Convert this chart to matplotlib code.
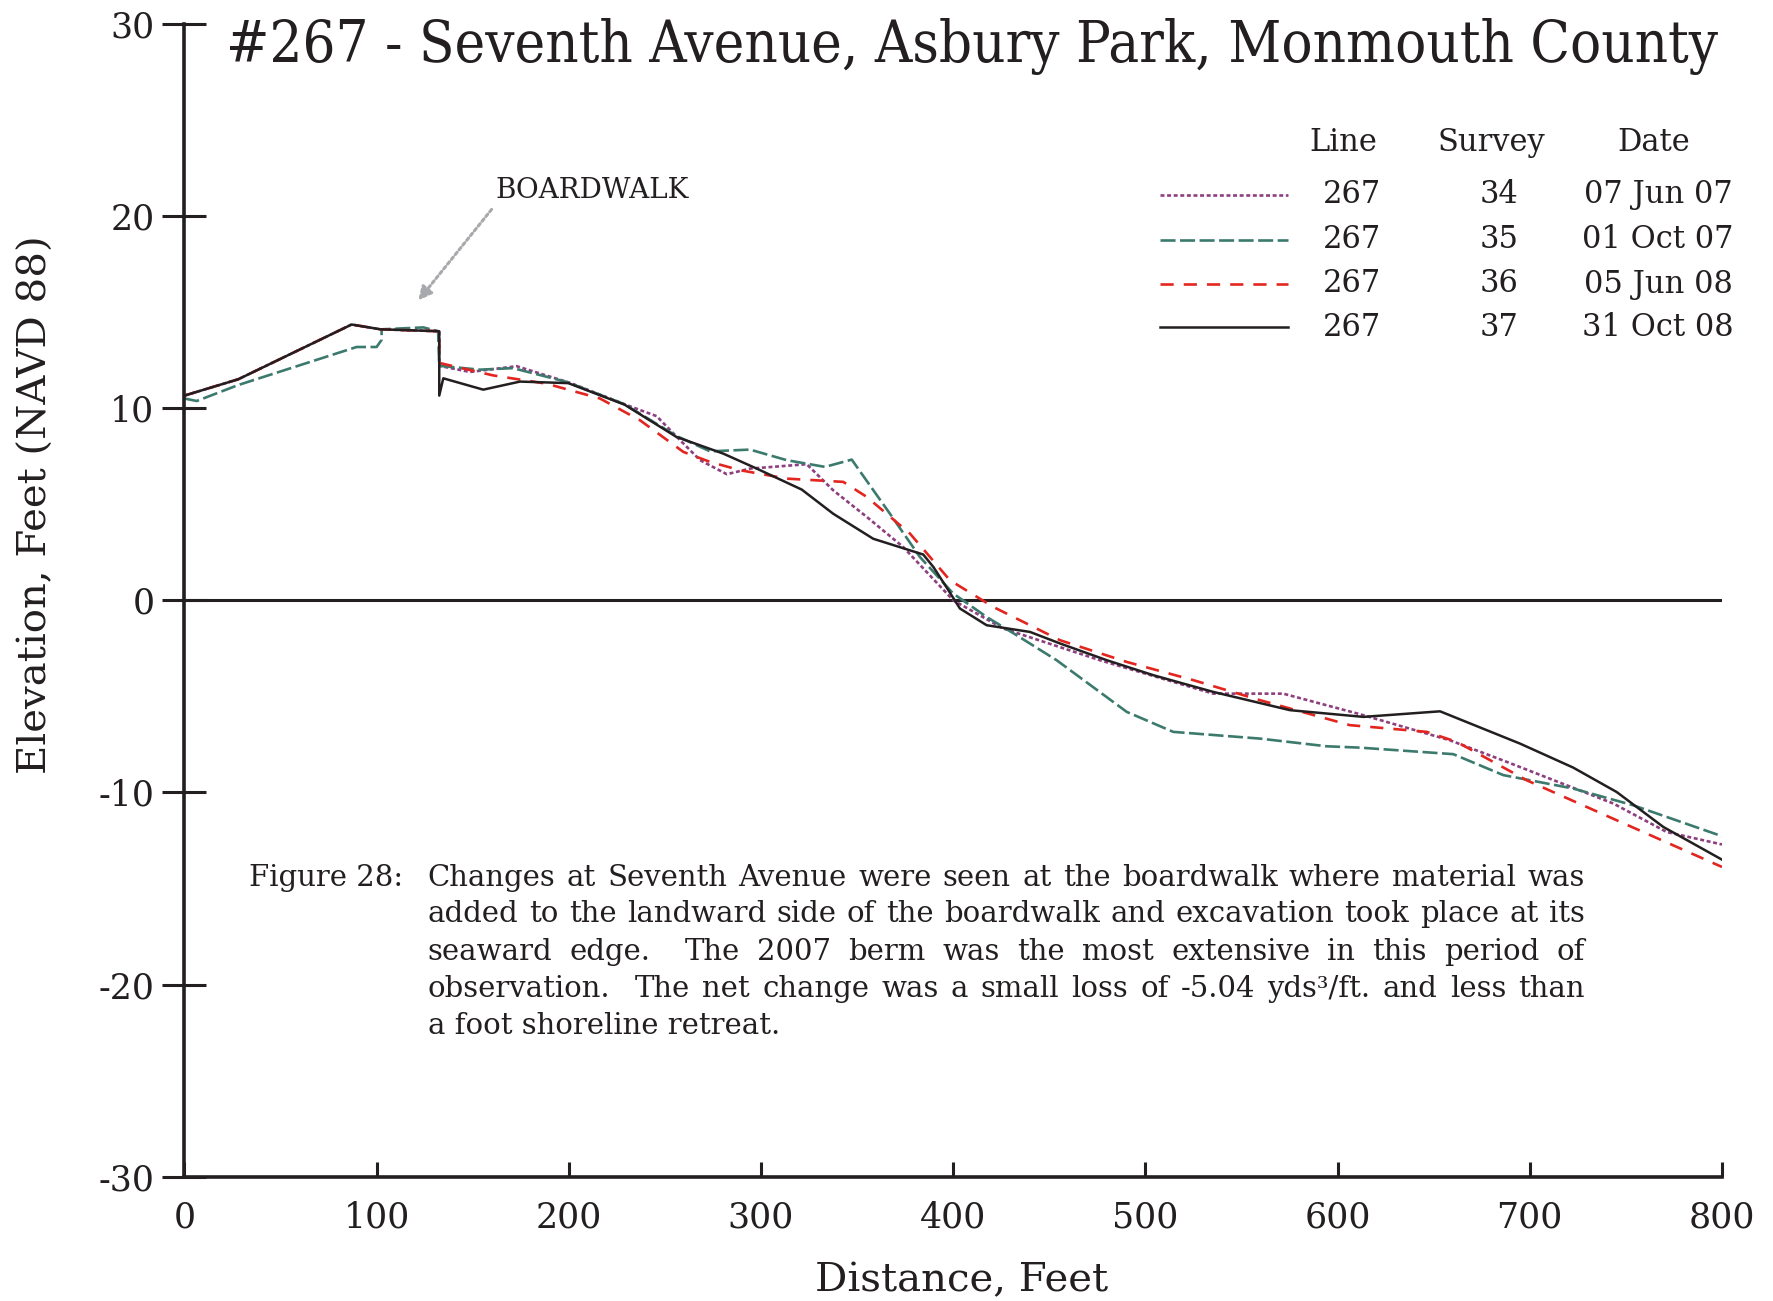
import re
import matplotlib
matplotlib.use('Agg')
import matplotlib.pyplot as plt
from matplotlib.lines import Line2D

plt.rcParams['font.family'] = 'DejaVu Serif'
plt.rcParams['axes.unicode_minus'] = False  # reference uses plain hyphens

# survey profiles, distance (ft) vs elevation (ft NAVD 88)
x_34 = [0, 28, 87, 102, 132.6, 132.6, 148.6, 172.9, 201, 229, 245.7, 257.9, 268.3, 282.2, 294.3,
        323.8, 337.6, 355, 374, 400, 426, 476.3, 535.3, 571.7, 611.6, 658.5, 688, 743.5, 771.2, 800]
y_34 = [10.65, 11.5, 14.35, 14.1, 14.0, 12.2, 11.88, 12.18, 11.3, 10.2, 9.58, 8.33, 7.29, 6.56, 6.85,
        7.08, 5.72, 4.34, 2.77, 0.0, -1.47, -3.12, -4.86, -4.86, -5.93, -7.29, -8.41, -10.58, -12.06, -12.71]

x_35 = [0, 6.4, 28, 89.6, 100, 102.6, 102.6, 124.3, 132, 132.6, 153.8, 171, 199, 229, 256, 273.5,
        294.3, 313.4, 333.3, 347.2, 367.1, 382.7, 400, 417.4, 433, 453.8, 490.3, 514.5, 559.6, 594.3,
        611.6, 660.2, 686.2, 722.6, 753.8, 800]
y_35 = [10.5, 10.37, 11.2, 13.18, 13.18, 13.55, 14.1, 14.2, 14.0, 12.2, 12.0, 12.08, 11.36, 10.2, 8.55, 7.75,
        7.84, 7.29, 6.94, 7.32, 4.5, 2.25, 0.35, -0.87, -1.82, -3.12, -5.81, -6.85, -7.2, -7.6,
        -7.67, -8.01, -9.1, -9.8, -10.67, -12.28]

x_36 = [0, 28, 87, 102, 132.6, 132.6, 160.7, 188.5, 216.2, 237, 259.6, 273.5, 289, 313.4, 342.8, 355,
        377.5, 398.3, 420.9, 455.6, 490.3, 525, 559.6, 606.4, 646.4, 662, 698.4, 745.2, 800]
y_36 = [10.65, 11.5, 14.35, 14.1, 14.0, 12.35, 11.7, 11.27, 10.5, 9.37, 7.72, 7.2, 6.77, 6.33, 6.16, 5.38,
        3.47, 1.04, -0.35, -2.08, -3.21, -4.16, -5.2, -6.5, -6.85, -7.37, -9.37, -11.45, -13.88]

x_37 = [0, 28, 87, 102, 132.6, 132.6, 134.7, 155.5, 174.6, 199.7, 229, 256, 280.4, 297.8, 321.2, 337.6,
        358.4, 384.4, 389.7, 397.5, 403.5, 417.4, 440, 455.6, 479.9, 504.1, 535.3, 575.2, 613.4, 653.3,
        694.9, 722.6, 745.2, 769.5, 800]
y_37 = [10.65, 11.5, 14.35, 14.1, 14.0, 10.65, 11.55, 10.96, 11.38, 11.3, 10.18, 8.5, 7.63, 6.85, 5.76, 4.5,
        3.2, 2.38, 1.73, 0.52, -0.43, -1.3, -1.65, -2.25, -3.12, -3.9, -4.77, -5.72, -6.07, -5.78,
        -7.46, -8.71, -9.98, -11.8, -13.5]

line_ids = ['267', '267', '267', '267']
survey_ids = ['34', '35', '36', '37']
survey_dates = ['07 Jun 07', '01 Oct 07', '05 Jun 08', '31 Oct 08']

x_ticks = [0, 100, 200, 300, 400, 500, 600, 700, 800]
y_ticks = [-30, -20, -10, 0, 10, 20, 30]

title = '#267 - Seventh Avenue, Asbury Park, Monmouth County'
caption = ['Changes at Seventh Avenue were seen at the boardwalk where material was',
           'added to the landward side of the boardwalk and excavation took place at its',
           'seaward edge.  The 2007 berm was the most extensive in this period of',
           'observation.  The net change was a small loss of -5.04 yds\u00b3/ft. and less than',
           'a foot shoreline retreat.']

styles = [dict(color='#8e3f80', ls=(0, (1.5, 1.0)), lw=1.9),
          dict(color='#3c7a6e', ls=(0, (5.7, 1.7)), lw=1.9),
          dict(color='#e3251f', ls=(0, (5, 3.8)), lw=1.9),
          dict(color='#231f20', ls='-', lw=1.8)]

W, H = 1774, 1301
fig = plt.figure(figsize=(W / 100, H / 100), dpi=100)
ax = fig.add_axes([184.4 / W, 1 - 1176.7 / H, (1722 - 184.4) / W, (1176.7 - 23.8) / H])

ax.axhline(0, color='#231f20', lw=2.2, zorder=1)
order = [2, 0, 1, 3]  # red under, black on top
data = [(x_34, y_34), (x_35, y_35), (x_36, y_36), (x_37, y_37)]
for i in order:
    ax.plot(data[i][0], data[i][1], zorder=2 + i, **styles[i])

ax.set_xlim(0, 800)
ax.set_ylim(-30, 30)
ax.set_xticks(x_ticks)
ax.set_yticks(y_ticks)
for s in ['top', 'right']:
    ax.spines[s].set_visible(False)
for s in ['left', 'bottom']:
    ax.spines[s].set_linewidth(2.6)
    ax.spines[s].set_color('#231f20')
    ax.spines[s].set_zorder(10)
ax.tick_params(axis='y', direction='inout', length=31, width=2.2, labelsize=25, pad=6, colors='#231f20')
ax.tick_params(axis='x', direction='in', length=11, width=2.2, labelsize=25, pad=17, colors='#231f20')
ax.set_xlabel('Distance, Feet', fontsize=29, color='#231f20')
ax.xaxis.set_label_coords(962 / W, 1 - 1281 / H, transform=fig.transFigure)
ax.set_ylabel('Elevation, Feet (NAVD 88)', fontsize=29, color='#231f20')
ax.yaxis.set_label_coords(36 / W, 1 - 505 / H, transform=fig.transFigure)
ax.xaxis.label.set_va('center')
ax.yaxis.label.set_va('center')

fig.text(226 / W, 1 - 62 / H, title, fontsize=41.5, fontstretch='condensed', va='baseline', ha='left',
         color='#231f20')

ax.annotate('BOARDWALK', xy=(121.7, 15.6), xytext=(161.9, 21.3), fontsize=20, color='#231f20',
            va='center', ha='left',
            arrowprops=dict(arrowstyle='-|>', color='#a7a9ac', lw=2.2, linestyle=(0, (1, 1)),
                            mutation_scale=20, relpos=(0, 0), shrinkA=2, shrinkB=0))

# legend table
hdr_y = 142.6
fig.text(1343 / W, 1 - hdr_y / H, 'Line', fontsize=22, ha='center', va='center', color='#231f20')
fig.text(1491 / W, 1 - hdr_y / H, 'Survey', fontsize=22, ha='center', va='center', color='#231f20')
fig.text(1654 / W, 1 - hdr_y / H, 'Date', fontsize=22, ha='center', va='center', color='#231f20')
row_y = [194.6, 239.9, 284.0, 327.0]
for i in range(4):
    yy = 1 - row_y[i] / H
    fig.add_artist(Line2D([1160 / W, 1288 / W], [yy, yy], transform=fig.transFigure, **styles[i]))
    fig.text(1352 / W, yy, line_ids[i], fontsize=22, ha='center', va='center', color='#231f20')
    fig.text(1499 / W, yy, survey_ids[i], fontsize=22, ha='center', va='center', color='#231f20')
    fig.text(1658 / W, yy, survey_dates[i], fontsize=22, ha='center', va='center', color='#231f20')

# justified caption
cap_size = 21
cap_x0, cap_x1 = 427.7, 1585
cap_y = [878, 914, 951.5, 989, 1026]
fig.text(249 / W, 1 - cap_y[0] / H, 'Figure 28:', fontsize=cap_size, va='center', ha='left', color='#231f20')
renderer = fig.canvas.get_renderer()
for k, line in enumerate(caption):
    yy = 1 - cap_y[k] / H
    if k == len(caption) - 1:
        fig.text(cap_x0 / W, yy, line, fontsize=cap_size, va='center', ha='left', color='#231f20')
        continue
    parts = re.split(r'( +)', line)
    words = parts[0::2]
    gaps = [len(g) for g in parts[1::2]]
    arts = [fig.text(0, yy, w, fontsize=cap_size, va='center', ha='left', color='#231f20') for w in words]
    widths = [a.get_window_extent(renderer).width for a in arts]
    unit = (cap_x1 - cap_x0 - sum(widths)) / sum(gaps)
    xp = cap_x0
    for j, a in enumerate(arts):
        a.set_x(xp / W)
        xp += widths[j] + (unit * gaps[j] if j < len(gaps) else 0)

fig.savefig('out.png', dpi=100)
